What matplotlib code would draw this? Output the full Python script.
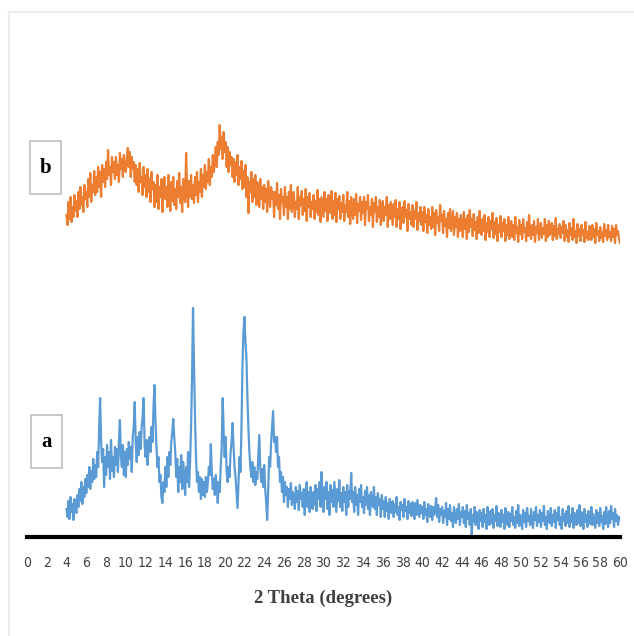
"""XRD patterns of samples a and b, drawn the way the spreadsheet chart shows them."""

import matplotlib

matplotlib.use("Agg")
import matplotlib.pyplot as plt
import numpy as np
from matplotlib.lines import Line2D
from matplotlib.patches import Rectangle

# 2 theta scan: 4 -> 60 degrees, 0.1 degree steps
THETA_START, THETA_END = 4.0, 60.0

# sample a (blue), counts, 10 points per degree
intensity_a = [
    28, 20, 36, 18, 40, 25, 33, 17, 38, 30,  # 4
    24, 42, 30, 48, 36, 55, 33, 50, 40, 58,  # 5
    44, 62, 50, 70, 48, 66, 55, 78, 58, 72,  # 6
    60, 85, 70, 110, 139, 95, 75, 88, 50, 80,  # 7
    62, 92, 70, 85, 58, 97, 66, 80, 60, 90,  # 8
    72, 88, 65, 95, 117, 80, 70, 92, 62, 85,  # 9
    60, 88, 72, 95, 78, 90, 65, 100, 110, 135,  # 10
    95, 75, 100, 82, 105, 88, 110, 120, 139, 92,  # 11
    80, 97, 72, 90, 100, 85, 110, 95, 130, 152,  # 12
    115, 90, 70, 80, 55, 62, 40, 34, 55, 45,  # 13
    70, 50, 80, 60, 85, 72, 95, 105, 118, 100,  # 14
    85, 60, 78, 45, 70, 55, 82, 48, 75, 60,  # 15
    42, 70, 55, 85, 50, 75, 110, 160, 229, 170,  # 16
    120, 80, 55, 65, 45, 60, 38, 58, 42, 55,  # 17
    40, 60, 45, 55, 70, 62, 93, 65, 48, 58,  # 18
    42, 62, 50, 34, 55, 45, 70, 90, 139, 105,  # 19
    80, 100, 65, 55, 70, 60, 85, 95, 114, 90,  # 20
    70, 60, 45, 29, 55, 80, 65, 110, 170, 205,  # 21
    220, 195, 180, 140, 110, 85, 70, 60, 75, 55,  # 22
    70, 52, 65, 58, 80, 102, 70, 55, 68, 50,  # 23
    72, 48, 35, 17, 45, 80, 70, 95, 110, 126,  # 24
    95, 100, 85, 100, 70, 80, 55, 65, 45, 60,  # 25
    35, 55, 42, 50, 30, 48, 38, 54, 32, 45,  # 26
    40, 28, 50, 35, 46, 27, 52, 38, 44, 30,  # 27
    48, 22, 42, 55, 30, 45, 25, 50, 36, 28,  # 28
    45, 32, 52, 26, 48, 38, 55, 30, 65, 40,  # 29
    25, 50, 38, 55, 28, 45, 22, 52, 35, 47,  # 30
    30, 55, 40, 25, 48, 36, 57, 30, 44, 26,  # 31
    50, 35, 45, 22, 52, 30, 46, 38, 64, 35,  # 32
    45, 25, 50, 32, 42, 22, 48, 35, 52, 30,  # 33
    40, 24, 46, 32, 50, 28, 42, 22, 45, 35,  # 34
    30, 50, 28, 40, 22, 44, 32, 38, 20, 42,  # 35
    28, 36, 20, 40, 26, 34, 18, 38, 30, 24,  # 36
    36, 20, 33, 25, 40, 22, 30, 17, 35, 27,  # 37
    32, 20, 38, 26, 30, 18, 36, 24, 33, 21,  # 38
    35, 25, 18, 34, 22, 37, 28, 20, 32, 24,  # 39
    30, 18, 35, 22, 28, 15, 33, 25, 20, 31,  # 40
    17, 30, 22, 28, 39, 20, 32, 15, 28, 22,  # 41
    30, 14, 26, 20, 34, 12, 28, 18, 32, 16,  # 42
    24, 10, 30, 20, 14, 28, 18, 33, 12, 25,  # 43
    20, 30, 14, 26, 10, 32, 18, 24, 12, 28,  # 44
    2, 22, 15, 30, 12, 25, 18, 8, 27, 16,  # 45
    24, 10, 28, 15, 22, 8, 30, 18, 12, 26,  # 46
    14, 28, 9, 22, 16, 31, 11, 24, 18, 10,  # 47
    27, 15, 22, 8, 29, 17, 12, 25, 10, 23,  # 48
    16, 30, 12, 20, 9, 26, 14, 32, 11, 22,  # 49
    18, 8, 27, 15, 24, 10, 29, 16, 21, 12,  # 50
    28, 14, 9, 25, 17, 30, 11, 22, 15, 27,  # 51
    10, 24, 16, 31, 12, 20, 8, 26, 18, 14,  # 52
    29, 11, 22, 15, 27, 9, 24, 17, 30, 12,  # 53
    20, 8, 28, 16, 23, 11, 26, 14, 31, 10,  # 54
    22, 15, 29, 9, 24, 17, 12, 27, 14, 32,  # 55
    11, 25, 17, 8, 28, 15, 22, 10, 26, 18,  # 56
    13, 30, 12, 23, 16, 9, 27, 14, 24, 11,  # 57
    29, 15, 21, 8, 25, 13, 30, 17, 10, 26,  # 58
    14, 31, 18, 24, 10, 28, 16, 22, 12, 20,  # 59
    18,  # 60
]

# sample b (orange), already shifted up above sample a
intensity_b = [
    322, 312, 335, 318, 340, 315, 330, 320, 342, 326,  # 4
    336, 320, 345, 328, 350, 332, 340, 325, 352, 338,  # 5
    345, 330, 358, 340, 364, 335, 352, 345, 366, 342,  # 6
    360, 345, 370, 350, 365, 340, 372, 355, 368, 350,  # 7
    375, 358, 387, 362, 370, 352, 380, 365, 375, 358,  # 8
    380, 362, 372, 355, 384, 368, 378, 360, 382, 370,  # 9
    365, 378, 389, 370, 385, 360, 380, 368, 375, 355,  # 10
    372, 352, 368, 345, 374, 355, 360, 342, 370, 350,  # 11
    362, 340, 368, 345, 358, 335, 365, 348, 355, 330,  # 12
    352, 335, 362, 328, 350, 340, 358, 325, 345, 360,  # 13
    338, 350, 330, 362, 342, 326, 355, 336, 360, 332,  # 14
    348, 328, 356, 340, 364, 334, 350, 325, 358, 342,  # 15
    335, 384, 348, 330, 356, 340, 362, 338, 352, 334,  # 16
    360, 342, 365, 335, 355, 345, 368, 340, 362, 350,  # 17
    372, 348, 365, 355, 378, 352, 370, 360, 382, 365,  # 18
    375, 390, 370, 395, 382, 412, 388, 400, 378, 405,  # 19
    385, 395, 370, 390, 365, 385, 372, 380, 360, 378,  # 20
    355, 375, 362, 382, 352, 370, 358, 376, 348, 366,  # 21
    350, 372, 340, 360, 324, 355, 345, 365, 335, 358,  # 22
    340, 362, 332, 355, 345, 330, 358, 338, 350, 328,  # 23
    352, 335, 348, 325, 356, 340, 330, 350, 338, 345,  # 24
    320, 345, 332, 354, 328, 342, 318, 348, 335, 340,  # 25
    322, 350, 330, 340, 318, 345, 328, 352, 325, 338,  # 26
    345, 320, 335, 328, 350, 318, 340, 332, 346, 322,  # 27
    338, 326, 348, 316, 340, 330, 344, 320, 335, 328,  # 28
    342, 318, 336, 325, 347, 322, 338, 315, 340, 330,  # 29
    320, 345, 326, 338, 316, 342, 330, 324, 346, 318,  # 30
    336, 322, 344, 315, 338, 328, 341, 318, 334, 325,  # 31
    342, 316, 332, 325, 345, 320, 336, 313, 340, 327,  # 32
    318, 338, 322, 343, 314, 333, 326, 340, 317, 335,  # 33
    324, 340, 312, 335, 328, 342, 316, 330, 322, 338,  # 34
    310, 334, 325, 340, 315, 330, 320, 337, 312, 328,  # 35
    336, 316, 330, 322, 340, 310, 332, 318, 335, 324,  # 36
    312, 333, 320, 337, 310, 328, 318, 335, 308, 326,  # 37
    330, 314, 336, 320, 327, 306, 333, 318, 325, 312,  # 38
    332, 310, 326, 318, 335, 307, 324, 316, 330, 312,  # 39
    325, 306, 330, 315, 322, 304, 328, 312, 320, 308,  # 40
    330, 310, 324, 302, 327, 314, 320, 306, 332, 316,  # 41
    322, 304, 326, 311, 318, 300, 324, 309, 328, 306,  # 42
    316, 326, 302, 320, 310, 324, 300, 318, 306, 322,  # 43
    312, 300, 325, 308, 318, 298, 322, 305, 327, 310,  # 44
    318, 301, 323, 307, 315, 298, 320, 304, 326, 310,  # 45
    302, 318, 306, 322, 297, 314, 305, 320, 300, 316,  # 46
    308, 324, 299, 315, 303, 319, 296, 312, 305, 321,  # 47
    300, 314, 306, 318, 296, 312, 302, 320, 298, 310,  # 48
    316, 300, 312, 297, 320, 304, 310, 295, 317, 303,  # 49
    312, 298, 318, 305, 309, 296, 315, 301, 322, 304,  # 50
    298, 312, 302, 316, 295, 310, 304, 318, 297, 308,  # 51
    314, 299, 309, 303, 318, 296, 312, 300, 316, 302,  # 52
    306, 314, 297, 311, 301, 319, 298, 308, 303, 313,  # 53
    299, 310, 304, 316, 296, 312, 300, 307, 295, 314,  # 54
    302, 309, 297, 318, 300, 306, 294, 313, 301, 308,  # 55
    296, 312, 302, 307, 295, 315, 299, 305, 297, 311,  # 56
    303, 297, 312, 300, 308, 294, 314, 302, 306, 296,  # 57
    310, 299, 305, 295, 313, 301, 307, 297, 312, 300,  # 58
    305, 296, 311, 300, 308, 294, 312, 302, 306, 298,  # 59
    294,  # 60
]

x_ticks = list(range(0, 61, 2))

BLUE = "#5B9BD5"
ORANGE = "#ED7D31"
TEXT_GREY = "#404040"


def main():
    fig = plt.figure(figsize=(6.34, 6.36), dpi=100)
    ax = fig.add_axes([27 / 634, 99 / 636, 593 / 634, 517 / 636])

    theta_a = np.linspace(THETA_START, THETA_END, len(intensity_a))
    theta_b = np.linspace(THETA_START, THETA_END, len(intensity_b))
    ax.plot(theta_a, intensity_a, color=BLUE, lw=1.6, solid_joinstyle="round")
    ax.plot(theta_b, intensity_b, color=ORANGE, lw=1.6, solid_joinstyle="round")

    ax.set_xlim(0, 60)
    ax.set_ylim(0, 517)
    ax.set_xticks(x_ticks)
    ax.set_xticklabels([str(t) for t in x_ticks])
    ax.set_yticks([])
    for side in ("top", "right", "left"):
        ax.spines[side].set_visible(False)
    ax.spines["bottom"].set_linewidth(3)
    ax.spines["bottom"].set_color("black")
    ax.tick_params(axis="x", length=0, pad=14, labelsize=10, labelcolor=TEXT_GREY)
    for lab in ax.get_xticklabels():
        lab.set_family(["DejaVu Sans"])
        lab.set_stretch("condensed")

    ax.set_xlabel("2 Theta (degrees)", family="Liberation Serif", weight="bold",
                  fontsize=13.5, color=TEXT_GREY, labelpad=14)

    # sample tags in little grey boxes
    for tag, x0, y0 in (("a", 0.4, 69), ("b", 0.3, 343)):
        ax.add_patch(Rectangle((x0, y0), 3.15, 53, fill=False, ec="#bfbfbf", lw=1.2, clip_on=False))
        ax.text(x0 + 1.57, y0 + 26, tag, ha="center", va="center", family="Liberation Serif",
                weight="bold", fontsize=15, color="black")

    # faint chart-area frame
    fig.add_artist(Line2D([9 / 634, 9 / 634], [0, 1 - 12 / 636], color="#ececec", lw=1.5))
    fig.add_artist(Line2D([9 / 634, 1], [1 - 12 / 636, 1 - 12 / 636], color="#ececec", lw=1.5))

    fig.savefig("out.png", dpi=100, facecolor="white")


if __name__ == "__main__":
    main()
